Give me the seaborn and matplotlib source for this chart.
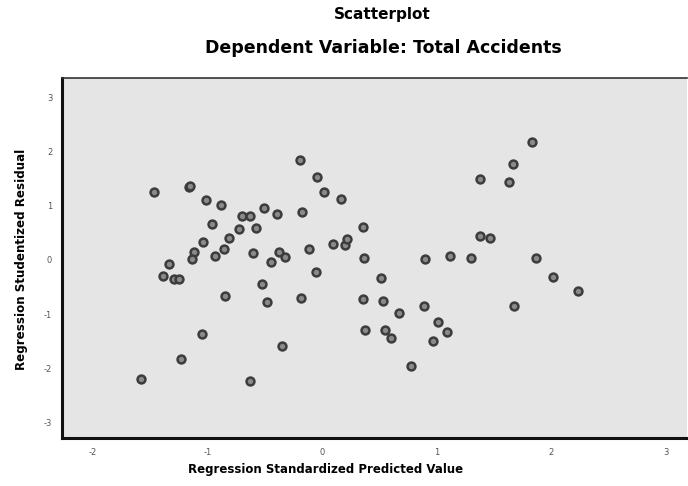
import matplotlib
matplotlib.use("Agg")
import matplotlib.pyplot as plt
import seaborn as sns
import pandas as pd

# Regression standardized predicted value (x) and studentized residual (y)
predicted = [-0.192, -0.046, 0.017, 0.163, -1.464, -1.160, -1.150, -1.008, -0.883,
             -0.702, -0.629, -0.510, -0.391, -0.172, -0.964, -0.727, -0.573, 0.356,
             -0.811, -1.034, -1.116, -1.132, -0.935, -0.854, -0.603, -0.373, -0.323,
             -0.448, -0.111, 0.099, 0.201, 0.223, 0.369, -1.335, -1.387, -1.288,
             -1.246, -0.052, 0.520, -0.524, -0.842, -0.478, -0.186, 0.361, 0.536,
             0.673, -1.046, 0.378, 0.551, 0.603, -0.347, -1.230, -1.582, -0.629,
             0.894, 1.011, 1.090, 0.973, 0.778, 1.681, 1.833, 1.672, 1.381, 1.637,
             1.381, 1.469, 0.900, 1.119, 1.300, 1.871, 2.017, 2.232]
residual = [1.842, 1.523, 1.258, 1.123, 1.258, 1.350, 1.354, 1.105, 1.013,
            0.810, 0.810, 0.963, 0.847, 0.884, 0.663, 0.576, 0.595, 0.613,
            0.411, 0.322, 0.144, 0.024, 0.074, 0.203, 0.134, 0.144, 0.050,
            -0.046, 0.208, 0.285, 0.271, 0.387, 0.037, -0.077, -0.295, -0.346,
            -0.344, -0.230, -0.337, -0.442, -0.663, -0.768, -0.694, -0.718, -0.750,
            -0.982, -1.368, -1.289, -1.289, -1.442, -1.584, -1.823, -2.197, -2.223,
            -0.842, -1.136, -1.331, -1.486, -1.952, -0.853, 2.179, 1.768, 1.486, 1.442,
            0.442, 0.411, 0.013, 0.074, 0.042, 0.042, -0.308, -0.565]

x_ticks = [-2, -1, 0, 1, 2, 3]
y_ticks = [-3, -2, -1, 0, 1, 2, 3]

df = pd.DataFrame({"pred": predicted, "resid": residual})

sns.set_style("white")
fig = plt.figure(figsize=(6.88, 4.86), dpi=100)
ax = fig.add_axes([0.090, 0.0988, 0.909, 0.7407])
ax.set_facecolor("#e5e5e5")

sns.scatterplot(data=df, x="pred", y="resid", ax=ax, s=32,
                color="#8a8a8a", edgecolor="#3c3c3c", linewidth=1.8, zorder=3)

ax.set_xlim(-2.27, 3.19)
ax.set_ylim(-3.28, 3.35)
ax.set_xticks(x_ticks)
ax.set_yticks(y_ticks)
ax.set_xticklabels([str(t) for t in x_ticks], fontsize=6, color="#555555")
ax.set_yticklabels([str(t) for t in y_ticks], fontsize=6, color="#555555")
ax.tick_params(axis="both", direction="out", length=4, width=2, color="#222222", pad=3)

for side in ["left", "bottom"]:
    ax.spines[side].set_linewidth(2.2)
    ax.spines[side].set_color("#111111")
ax.spines["top"].set_linewidth(1.2)
ax.spines["top"].set_color("#333333")
ax.spines["right"].set_visible(False)

ax.set_xlabel("Regression Standardized Predicted Value", fontsize=8.5,
              fontweight="bold", color="black")
ax.xaxis.set_label_coords(0.4217, -0.069)
ax.set_ylabel("Regression Studentized Residual", fontsize=8.6,
              fontweight="bold", color="black")
ax.yaxis.set_label_coords(-0.055, 0.497)

fig.text(0.556, 0.971, "Scatterplot", ha="center", va="center",
         fontsize=11, fontweight="bold", color="black")
fig.text(0.557, 0.901, "Dependent Variable: Total Accidents", ha="center",
         va="center", fontsize=12.5, fontweight="bold", color="black")

fig.savefig("out.png", dpi=100)
